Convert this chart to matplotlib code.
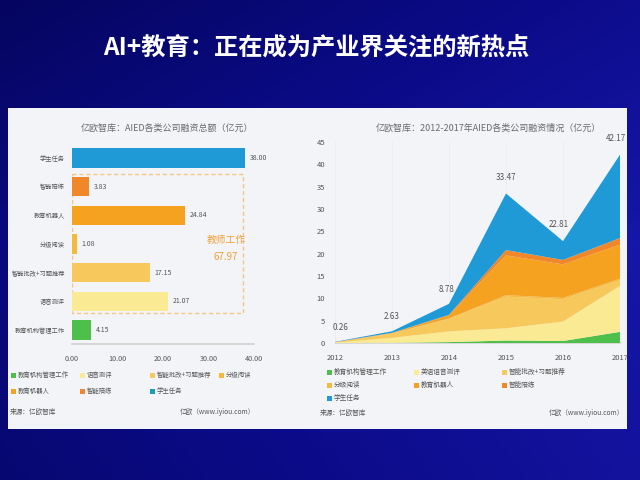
import numpy as np
import matplotlib
matplotlib.use("Agg")
import matplotlib.pyplot as plt
from matplotlib.patches import Rectangle
from matplotlib.colors import LinearSegmentedColormap

plt.rcParams['font.family'] = ['Noto Sans CJK SC', 'DejaVu Sans']

# ---------------- data ----------------
title = "AI+教育：正在成为产业界关注的新热点"

bar_title = "亿欧智库：AIED各类公司融资总额（亿元）"
bar_cats = ["学生任务", "智能陪练", "教育机器人", "分级阅读", "智能批改+习题推荐", "语音测评", "教育机构管理工作"]
bar_vals = [38.00, 3.83, 24.84, 1.08, 17.15, 21.07, 4.15]
bar_ticks = [0, 10, 20, 30, 40]
teacher_label = "教师工作"
teacher_total = 67.97
bar_legend = ["教育机构管理工作", "语音测评", "智能批改+习题推荐", "分级阅读", "教育机器人", "智能陪练", "学生任务"]

area_title = "亿欧智库：2012-2017年AIED各类公司融资情况（亿元）"
years = [2012, 2013, 2014, 2015, 2016, 2017]
area_names = ["教育机构管理工作", "英语语音测评", "智能批改+习题推荐", "分级阅读", "教育机器人", "智能陪练", "学生任务"]
s_mgmt = [0.01, 0.05, 0.20, 0.55, 0.45, 2.50]
s_voice = [0.10, 1.10, 2.40, 2.75, 4.35, 10.30]
s_grade = [0.05, 0.95, 2.80, 7.10, 5.00, 1.30]
s_read = [0.00, 0.05, 0.10, 0.30, 0.30, 0.30]
s_robot = [0.05, 0.10, 0.70, 8.90, 7.50, 7.60]
s_coach = [0.00, 0.03, 0.10, 1.20, 1.00, 1.50]
s_student = [0.05, 0.35, 2.48, 12.67, 4.21, 18.67]
year_totals = [0.26, 2.63, 8.78, 33.47, 22.81, 42.17]
y_ticks = [0, 5, 10, 15, 20, 25, 30, 35, 40, 45]

source_left = "来源：亿欧智库"
source_right = "亿欧（www.iyiou.com）"

# ---------------- styles ----------------
c_student = "#1f9ad6"
c_coach = "#f0882a"
c_robot = "#f6a221"
c_read = "#f5b93c"
c_grade = "#f7c95c"
c_voice = "#faea93"
c_mgmt = "#4fbf4c"
bar_colors = [c_student, c_coach, c_robot, c_read, c_grade, c_voice, c_mgmt]
legend_colors = {"教育机构管理工作": c_mgmt, "语音测评": c_voice, "英语语音测评": c_voice,
                 "智能批改+习题推荐": c_grade, "分级阅读": c_read, "教育机器人": c_robot,
                 "智能陪练": c_coach, "学生任务": c_student}
txt = "#555555"

W, H = 640, 480
fig = plt.figure(figsize=(6.4, 4.8), dpi=100)

# background gradient
bg = fig.add_axes([0, 0, 1, 1])
bg.set_zorder(-5)
xx, yy = np.meshgrid(np.linspace(0, 1, 200), np.linspace(0, 1, 150))
val = 0.55 * xx + 0.25 * (1 - np.abs(yy - 0.5) * 2) + 0.2 * yy
cmap = LinearSegmentedColormap.from_list("bg", ["#050560", "#0b0b88", "#1616a8"])
bg.imshow(val, cmap=cmap, aspect="auto", extent=[0, 1, 0, 1], origin="upper")
bg.set_xlim(0, 1); bg.set_ylim(0, 1); bg.axis("off")

def fx(px):
    return px / W
def fy(py):
    return 1 - py / H

# title
fig.text(fx(316), fy(48), title, color="white", fontsize=17.5, fontweight="bold",
         ha="center", va="center")

# white panel
fig.patches.append(Rectangle((fx(8), fy(429)), fx(627) - fx(8), fy(108) - fy(429),
                             transform=fig.transFigure, facecolor="#f3f4f8",
                             edgecolor="none", zorder=-1))

# ---------------- left bar chart ----------------
axL = fig.add_axes([fx(72), fy(344.3), fx(254) - fx(72), fy(143.7) - fy(344.3)])
axL.set_facecolor("none")
ypos = np.arange(len(bar_cats))
axL.barh(ypos, bar_vals, height=0.68, color=bar_colors, zorder=3)
axL.set_xlim(0, 40)
axL.set_ylim(6.5, -0.5)
axL.set_yticks(ypos)
axL.set_yticklabels(bar_cats, fontsize=4.5, color=txt)
axL.set_xticks(bar_ticks)
axL.set_xticklabels([f"{t:.2f}" for t in bar_ticks], fontsize=5.2, color=txt)
axL.tick_params(length=0, pad=5)
axL.tick_params(axis="x", pad=8)
for s in ["top", "right", "left"]:
    axL.spines[s].set_visible(False)
axL.spines["bottom"].set_color("#d0d0d0")
axL.spines["bottom"].set_linewidth(1.2)
for i, v in enumerate(bar_vals):
    axL.text(v + 1.0, i, f"{v:.2f}", fontsize=5.0, color=txt, va="center", ha="left")
# dashed teacher box
axL.add_patch(Rectangle((0, 0.55), 37.5, 4.85, fill=False, edgecolor="#f5c58a",
                        linestyle=(0, (3, 2)), linewidth=1.0, zorder=2))
axL.text(33.8, 2.85, teacher_label, color="#f0a033", fontsize=7, ha="center", va="center")
axL.text(33.8, 3.45, f"{teacher_total:.2f}", color="#f0a033", fontsize=7, ha="center", va="center")
fig.text(fx(167), fy(128), bar_title, fontsize=6.5, color="#6a6a6a", ha="center", va="center")

# left legend
leg_pos_L = [(14, 375), (83, 375), (153, 375), (222, 375), (14, 391), (83, 391), (153, 391)]
for name, (px, py) in zip(bar_legend, leg_pos_L):
    col = legend_colors[name]
    if name == "学生任务":
        col = "#1a9fb0"
    fig.patches.append(Rectangle((fx(px - 3), fy(py + 2.5)), fx(5), fy(0) - fy(5),
                                 transform=fig.transFigure, facecolor=col, edgecolor="none", zorder=3))
    fig.text(fx(px + 4), fy(py), name, fontsize=4.6, color=txt, ha="left", va="center")
fig.text(fx(10), fy(412), source_left, fontsize=4.8, color=txt, ha="left", va="center")
fig.text(fx(217), fy(412), source_right, fontsize=4.8, color=txt, ha="center", va="center")

# ---------------- right area chart ----------------
axR = fig.add_axes([fx(335), fy(343), fx(620) - fx(335), fy(142) - fy(343)])
axR.set_facecolor("none")
layers = [s_mgmt, s_voice, s_grade, s_read, s_robot, s_coach, s_student]
cols = [c_mgmt, c_voice, c_grade, c_read, c_robot, c_coach, c_student]
axR.stackplot(years, layers, colors=cols, linewidth=0, zorder=3)
axR.set_xlim(2012, 2017)
axR.set_ylim(0, 45)
axR.set_xticks(years)
axR.set_xticklabels([str(y) for y in years], fontsize=5.5, color=txt)
axR.set_yticks(y_ticks)
axR.set_yticklabels([str(t) for t in y_ticks], fontsize=5.5, color=txt)
axR.tick_params(length=0, pad=7)
axR.tick_params(axis="x", pad=8)
for s in ["top", "right", "left"]:
    axR.spines[s].set_visible(False)
axR.spines["bottom"].set_color("#d8d8d8")
axR.grid(axis="x", color="#eaebef", linewidth=0.5, zorder=0)
label_dx = [0.1, 0.0, -0.05, 0.0, -0.07, -0.07]
label_dy = [2.2, 2.2, 2.2, 2.6, 2.8, 2.6]
for yr, tot, dx, dy in zip(years, year_totals, label_dx, label_dy):
    axR.text(yr + dx, tot + dy, f"{tot:.2f}", fontsize=5.8, color=txt, ha="center", va="bottom")
fig.text(fx(488), fy(128), area_title, fontsize=6.5, color="#6a6a6a", ha="center", va="center")

leg_pos_R = [(330, 372), (417, 372), (505, 372), (330, 385), (417, 385), (505, 385), (330, 398)]
for name, (px, py) in zip(area_names, leg_pos_R):
    col = legend_colors[name]
    fig.patches.append(Rectangle((fx(px - 3), fy(py + 2.5)), fx(5), fy(0) - fy(5),
                                 transform=fig.transFigure, facecolor=col, edgecolor="none", zorder=3))
    fig.text(fx(px + 4), fy(py), name, fontsize=4.8, color=txt, ha="left", va="center")
fig.text(fx(320), fy(413), source_left, fontsize=4.8, color=txt, ha="left", va="center")
fig.text(fx(624), fy(413), source_right, fontsize=4.8, color=txt, ha="right", va="center")

fig.savefig("out.png", dpi=100)
